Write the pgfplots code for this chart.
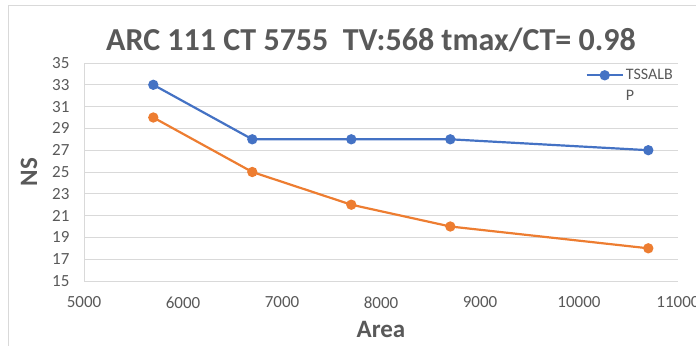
\documentclass[border=0pt]{standalone}
\usepackage{pgfplots}
\pgfplotsset{compat=1.18}
\usepackage{fontspec}
\setmainfont{Carlito}
\definecolor{sblue}{HTML}{4472C4}
\definecolor{sorange}{HTML}{ED7D31}
\definecolor{tgray}{HTML}{595959}
\definecolor{ggray}{HTML}{D9D9D9}
\begin{document}
\begin{tikzpicture}[x=1bp,y=1bp]
\useasboundingbox (0,0) rectangle (696,345);
\draw[ggray, line width=0.8bp] (8,-5) -- (8,340) -- (700,340);
\begin{axis}[
  at={(84bp,64bp)}, anchor=south west,
  scale only axis, width=594bp, height=218bp,
  xmin=5000, xmax=11000, ymin=15, ymax=35,
  xtick={5000,6000,...,11000}, ytick={15,17,...,35},
  scaled ticks=false,
  /pgf/number format/assume math mode=true,
  /pgf/number format/1000 sep={},
  /pgf/number format/fixed,
  ticklabel style={font=\fontsize{17bp}{19bp}\selectfont, text=tgray},
  xticklabel style={yshift=-12bp},
  yticklabel style={xshift=-11bp},
  major tick length=0pt,
  axis x line*=bottom, axis y line*=left,
  axis line style={ggray, line width=0.8bp},
  ymajorgrids, grid style={ggray, line width=0.8bp},
  xlabel={\textbf{Area}}, ylabel={\textbf{NS}},
  xlabel style={font=\fontsize{25bp}{27bp}\selectfont, text=tgray, yshift=-6bp},
  ylabel style={font=\fontsize{25bp}{27bp}\selectfont, text=tgray, yshift=8bp},
  title={\textbf{ARC 111 CT 5755\ \ TV:568 tmax/CT= 0.98}},
  title style={font=\fontsize{32bp}{34bp}\selectfont, text=tgray, xshift=-10bp, yshift=2bp},
  legend style={at={(1.0,0.99)}, anchor=north east, draw=none, fill=none,
    font=\fontsize{16bp}{18bp}\selectfont, text=tgray, row sep=5bp},
  legend cell align=left,
  legend image code/.code={\draw[mark repeat=2,mark phase=2] plot coordinates {(0bp,0bp) (18bp,0bp) (36bp,0bp)};},
]
\addplot[sblue, line width=2.2bp, mark=*, mark size=4bp] coordinates {
  (5700,33) (6700,28) (7700,28) (8700,28) (10700,27)};
\addlegendentry{TSSALB}
\addplot[sorange, line width=2.2bp, mark=*, mark size=4bp, forget plot] coordinates {
  (5700,30) (6700,25) (7700,22) (8700,20) (10700,18)};
\addlegendimage{empty legend}
\addlegendentry{P}
\end{axis}
\end{tikzpicture}
\end{document}
